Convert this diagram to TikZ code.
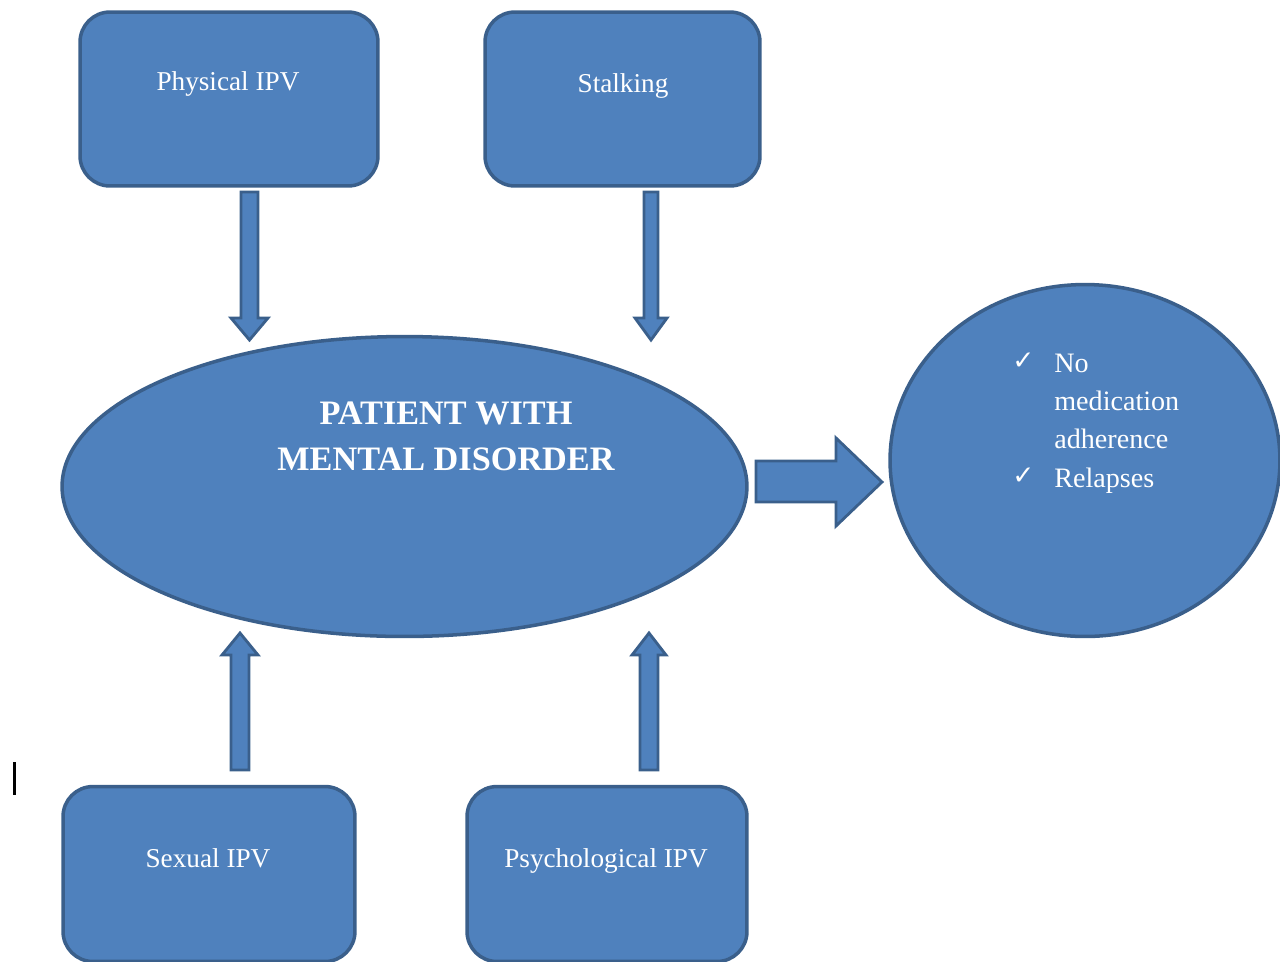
\documentclass[tikz,border=0pt]{standalone}
\usepackage{fontspec}
\usetikzlibrary{shapes.geometric}
\setmainfont{Liberation Serif}
\newfontfamily\symfont{DejaVu Sans}
\definecolor{fillblue}{HTML}{4F81BD}
\definecolor{edgeblue}{HTML}{3A5F8B}
\begin{document}
\begin{tikzpicture}[x=0.02cm,y=-0.02cm,
  shapebox/.style={draw=edgeblue,fill=fillblue,line width=2pt,rounded corners=0.6cm,inner sep=0pt},
  blockarrow/.style={draw=edgeblue,fill=fillblue,line width=1.6pt,line join=miter},
  boxtext/.style={text=white,font=\fontsize{15.5}{18}\selectfont,anchor=base,inner sep=0pt},
  bigtext/.style={text=white,font=\bfseries\fontsize{19.5}{23}\selectfont,anchor=base,inner sep=0pt},
  listtext/.style={text=white,font=\fontsize{16}{20}\selectfont,anchor=base west,inner sep=0pt},
  tick/.style={text=white,font=\symfont\fontsize{15}{18}\selectfont,anchor=base west,inner sep=0pt}]
\useasboundingbox (0,0) rectangle (1280,961);
% boxes
\node[shapebox,minimum width=5.96cm,minimum height=3.48cm] (phys) at (229,99) {};
\node[shapebox,minimum width=5.5cm,minimum height=3.48cm] (stalk) at (622.5,99) {};
\node[shapebox,minimum width=5.84cm,minimum height=3.5cm] (sex) at (209,874) {};
\node[shapebox,minimum width=5.6cm,minimum height=3.5cm] (psych) at (607,874) {};
\node[boxtext] (physT) at (228,90) {Physical IPV};
\node[boxtext] (stalkT) at (623,92) {Stalking};
\node[boxtext] (sexT) at (208,867) {Sexual IPV};
\node[boxtext] (psychT) at (606,867) {Psychological IPV};
% ellipse
\node[draw=edgeblue,fill=fillblue,line width=2pt,ellipse,minimum width=13.7cm,minimum height=6.0cm,inner sep=0pt] (pat) at (404.5,486.5) {};
\node[bigtext] (patT1) at (446,424) {PATIENT WITH};
\node[bigtext] (patT2) at (446,470) {MENTAL DISORDER};
% circle
\node[draw=edgeblue,fill=fillblue,line width=2pt,ellipse,minimum width=7.8cm,minimum height=7.04cm,inner sep=0pt] (out) at (1085,460.5) {};
\node[tick] (t1) at (1012,369) {✓};
\node[listtext] (l1) at (1054,372) {No};
\node[listtext] (l2) at (1054,410) {medication};
\node[listtext] (l3) at (1054,448) {adherence};
\node[tick] (t2) at (1012,484) {✓};
\node[listtext] (l4) at (1054,487) {Relapses};
% down arrows
\draw[blockarrow] (241,192) -- (258,192) -- (258,318) -- (268,318) -- (249.5,340) -- (231,318) -- (241,318) -- cycle;
\draw[blockarrow] (644,192) -- (658,192) -- (658,318) -- (667,318) -- (651,340) -- (635,318) -- (644,318) -- cycle;
% up arrows
\draw[blockarrow] (231,770) -- (249,770) -- (249,655) -- (258,655) -- (240,633) -- (222,655) -- (231,655) -- cycle;
\draw[blockarrow] (640,770) -- (658,770) -- (658,655) -- (666,655) -- (649,633) -- (632,655) -- (640,655) -- cycle;
% right arrow
\draw[blockarrow] (756,461) -- (836,461) -- (836,438) -- (882,482) -- (836,526) -- (836,502) -- (756,502) -- cycle;
% stray bar
\fill[black] (13,762) rectangle (16,795);
\end{tikzpicture}
\end{document}
